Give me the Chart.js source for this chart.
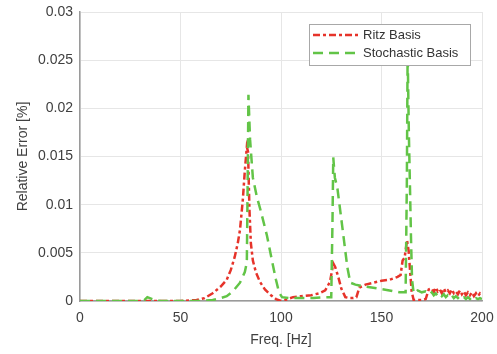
<!DOCTYPE html>
<html>
<head>
<meta charset="utf-8">
<script src="https://cdn.jsdelivr.net/npm/chart.js@4/dist/chart.umd.min.js"></script>
<style>
  html, body { margin: 0; padding: 0; background: #fff; }
  #wrap { width: 497px; height: 354px; }
</style>
</head>
<body>
<div id="wrap"><canvas id="myChart" width="497" height="354"></canvas></div>
<script>
//+++++++++++++++++++++++ data +++++++++++++++++++++++
var ritzFreq = [0, 10, 20, 30, 40, 50, 58, 62, 66, 70, 73, 75, 77, 78.5, 79.6, 81, 82, 83, 83.6, 84.3, 85, 86, 87.5, 89.5, 92, 95, 97.5, 100,
	102, 106, 110, 115, 119, 122, 124.4, 126, 127, 128.5, 130, 132, 134, 136, 137.5, 139, 142, 146, 150, 154, 158, 159.5, 160.5, 161.5,
	162.7, 163.5, 164.2, 165, 166, 168, 170, 172, 173.5, 175, 176, 177, 178, 179, 180, 181, 182, 183, 184, 185, 186, 187, 188, 189, 190,
	191, 192, 193, 194, 195, 196, 197, 198, 199, 200];
var ritzErr = [0, 0, 0, 0, 0, 0, 0.0001, 0.0003, 0.0008, 0.0015, 0.0022, 0.0032, 0.0046, 0.006, 0.0074, 0.0105, 0.0135, 0.016, 0.0155,
	0.0095, 0.006, 0.0042, 0.003, 0.002, 0.0012, 0.0006, 0.0002, 0, 0.0001, 0.0004, 0.0005, 0.0006, 0.0008, 0.0011, 0.002, 0.0039, 0.0035,
	0.0025, 0.0013, 0.0004, 0.0003, 0.0003, 0.0004, 0.0014, 0.0017, 0.0019, 0.0021, 0.0022, 0.0025, 0.0027, 0.0042, 0.0045, 0.0063,
	0.0052, 0.0032, 0.001, 0.0001, 0.0001, 0.0001, 0.0002, 0.0012, 0.0013, 0.0009, 0.0014, 0.001, 0.0012, 0.0008, 0.0013, 0.0009, 0.0011,
	0.0008, 0.0012, 0.0008, 0.001, 0.0007, 0.0011, 0.0007, 0.001, 0.0006, 0.0009, 0.0006, 0.0009, 0.0005, 0.0008, 0.0005, 0.0008, 0.0006];

var stochFreq = [0, 10, 20, 30, 32, 33.5, 36, 40, 50, 60, 66, 70, 73, 76, 79.6, 82, 83, 83.4, 83.8, 84.6, 86, 88, 90, 93, 95.5, 97.5, 99,
	100.5, 104, 110, 116, 122, 125, 125.6, 126, 126.8, 128, 130.5, 133, 134.5, 137, 142, 148, 154, 159, 162, 162.6, 163, 163.6, 164.2,
	164.7, 165.2, 166, 168, 170, 172, 174, 175, 176, 177, 178, 179, 180, 181, 182, 183, 184, 185, 186, 187, 188, 189, 190, 191, 192, 193,
	194, 195, 196, 197, 198, 199, 200];
var stochErr = [0, 0, 0, 0, 0.0001, 0.0004, 0.0002, 0, 0, 0, 0.0001, 0.0003, 0.0005, 0.001, 0.0019, 0.003, 0.004, 0.012, 0.0214, 0.0168,
	0.0128, 0.0108, 0.0093, 0.0068, 0.0042, 0.0022, 0.0009, 0.0004, 0.0003, 0.0003, 0.0003, 0.0004, 0.0004, 0.008, 0.0149, 0.0128, 0.0118,
	0.0077, 0.0035, 0.0019, 0.0017, 0.0015, 0.0013, 0.0011, 0.0009, 0.0009, 0.012, 0.026, 0.0175, 0.0115, 0.0063, 0.0022, 0.0008, 0.0011,
	0.0009, 0.001, 0.0007, 0.0009, 0.0006, 0.0008, 0.0005, 0.0007, 0.0005, 0.0007, 0.0004, 0.0006, 0.0004, 0.0006, 0.0003, 0.0005, 0.0003,
	0.0005, 0.0003, 0.0004, 0.0002, 0.0004, 0.0002, 0.0004, 0.0002, 0.0003, 0.0002, 0.0003, 0.0002];

var seriesNames = ['Ritz Basis', 'Stochastic Basis'];
var yTicks = [0, 0.005, 0.01, 0.015, 0.02, 0.025, 0.03];
var xTicks = [0, 50, 100, 150, 200];
//-------------------- end data --------------------

var RED = '#e6332a';
var GREEN = '#62c447';
var RED_DASH = [7, 3, 3, 3];
var GREEN_DASH = [10, 6];
var FONT = 'Liberation Sans, Arial, sans-serif';

function toPoints(xs, ys) {
	return xs.map(function (x, i) { return { x: x, y: ys[i] }; });
}

// legend drawn inside the plot, like the matlab one
var insideLegend = {
	id: 'insideLegend',
	afterDatasetsDraw: function (chart) {
		var c = chart.ctx;
		var x0 = 309, y0 = 24, w = 161, h = 41;
		c.save();
		c.fillStyle = '#fff';
		c.fillRect(x0, y0, w, h);
		c.strokeStyle = '#a8a8a8';
		c.lineWidth = 1;
		c.strokeRect(x0 + 0.5, y0 + 0.5, w, h);
		var rows = [
			{ label: seriesNames[0], color: RED, dash: RED_DASH, y: 35 },
			{ label: seriesNames[1], color: GREEN, dash: GREEN_DASH, y: 53 }
		];
		rows.forEach(function (r) {
			c.strokeStyle = r.color;
			c.lineWidth = 2.5;
			c.setLineDash(r.dash);
			c.beginPath();
			c.moveTo(313, r.y);
			c.lineTo(358, r.y);
			c.stroke();
			c.setLineDash([]);
			c.fillStyle = '#333';
			c.font = '13px ' + FONT;
			c.textBaseline = 'middle';
			c.textAlign = 'left';
			c.fillText(r.label, 363, r.y);
		});
		c.restore();
	}
};

var ctx = document.getElementById('myChart').getContext('2d');
var chart = new Chart(ctx, {
	type: 'line',
	data: {
		datasets: [{
			label: seriesNames[0],
			data: toPoints(ritzFreq, ritzErr),
			borderColor: RED,
			borderWidth: 2.5,
			borderDash: RED_DASH,
			pointRadius: 0,
			tension: 0,
			fill: false,
			order: 1
		},
		{
			label: seriesNames[1],
			data: toPoints(stochFreq, stochErr),
			borderColor: GREEN,
			borderWidth: 2.5,
			borderDash: GREEN_DASH,
			pointRadius: 0,
			tension: 0,
			fill: false,
			order: 0
		}]
	},
	options: {
		responsive: false,
		animation: false,
		layout: { padding: { top: 12, right: 15, left: 0, bottom: 0 } },
		plugins: {
			legend: { display: false },
			tooltip: { enabled: false }
		},
		scales: {
			x: {
				type: 'linear',
				min: 0,
				max: 200,
				afterFit: function (s) {
					s.height = 53;
					s.paddingLeft = 0;
					s.paddingRight = 0;
				},
				afterBuildTicks: function (s) { s.ticks = xTicks.map(function (v) { return { value: v }; }); },
				grid: { color: '#e6e6e6', drawTicks: false },
				border: { color: '#9a9a9a', width: 1.5 },
				ticks: { color: '#404040', padding: 9, font: { family: FONT, size: 14 } },
				title: {
					display: true,
					text: 'Freq. [Hz]',
					color: '#404040',
					font: { family: FONT, size: 14 },
					padding: { top: 0, bottom: 5 }
				}
			},
			y: {
				min: 0,
				max: 0.03,
				afterFit: function (s) {
					s.width = 80;
					s.paddingTop = 0;
					s.paddingBottom = 0;
				},
				afterBuildTicks: function (s) { s.ticks = yTicks.map(function (v) { return { value: v }; }); },
				grid: { color: '#e6e6e6', drawTicks: false },
				border: { color: '#9a9a9a', width: 1.5 },
				ticks: {
					color: '#404040',
					padding: 7,
					font: { family: FONT, size: 14 },
					callback: function (v) { return String(+v.toFixed(3)); }
				},
				title: {
					display: true,
					text: 'Relative Error [%]',
					color: '#404040',
					font: { family: FONT, size: 14 },
					padding: { top: 15, bottom: 0 }
				}
			}
		}
	},
	plugins: [insideLegend]
});
</script>
</body>
</html>
